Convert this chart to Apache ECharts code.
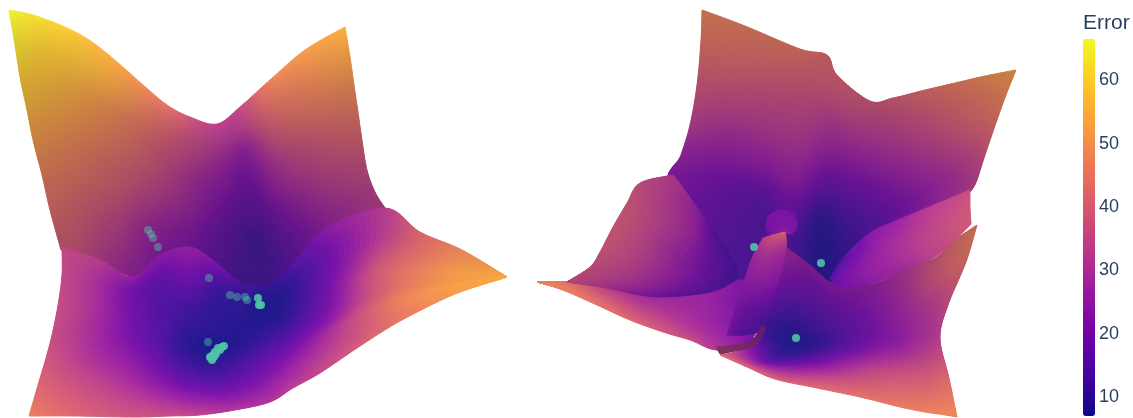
<!DOCTYPE html>
<html>
<head>
<meta charset="utf-8">
<style>html,body{margin:0;background:#fff}#chart{width:1133px;height:418px}</style>
<script src="https://cdn.jsdelivr.net/npm/echarts@6/dist/echarts.min.js"></script>
</head>
<body>
<div id="chart"></div>
<script>
// colour scale range and tick labels
const errMin = 7;
const errMax = 66.5;
const tickValues = [10, 20, 30, 40, 50, 60];
const plasma = ['#0d0887', '#46039f', '#7201a8', '#9c179e', '#bd3786', '#d8576b', '#ed7953', '#fb9f3a', '#fdca26', '#f0f921'];

// left landscape, back wall
const leftBackX = [
  [9, 33, 67, 92, 117, 143, 167, 190, 217, 240, 270, 305, 345],
  [15, 42, 72, 97, 122, 147, 171, 194, 219, 242, 272, 308, 350],
  [20, 47, 77, 102, 127, 151, 175, 198, 222, 245, 275, 312, 354],
  [27, 52, 82, 107, 132, 156, 179, 202, 225, 248, 278, 316, 358],
  [33, 57, 87, 112, 137, 161, 184, 207, 229, 251, 281, 320, 362],
  [42, 62, 92, 117, 142, 166, 189, 212, 232, 254, 284, 325, 367],
  [50, 70, 97, 122, 147, 172, 196, 218, 238, 258, 288, 333, 375],
  [61, 85, 110, 135, 160, 185, 210, 235, 260, 285, 315, 352, 385]
];
const leftBackY = [
  [10, 15, 28, 42, 62, 85, 105, 117, 124, 107, 80, 50, 27],
  [45, 50, 62, 75, 92, 110, 125, 135, 140, 128, 108, 85, 57],
  [77, 85, 95, 105, 118, 130, 142, 150, 156, 150, 135, 115, 85],
  [110, 118, 125, 133, 140, 150, 160, 167, 172, 170, 160, 140, 112],
  [140, 147, 152, 160, 165, 172, 178, 185, 190, 190, 182, 165, 140],
  [175, 180, 185, 190, 195, 200, 205, 210, 212, 212, 205, 190, 170],
  [210, 215, 220, 225, 232, 235, 238, 240, 240, 240, 235, 218, 192],
  [250, 258, 268, 278, 285, 292, 292, 292, 288, 272, 240, 220, 208]
];
const leftBackErr = [
  [66, 63, 60, 57, 54, 49, 44, 38, 33, 35, 47, 52, 55],
  [63, 60, 58, 56, 52, 46, 41, 36, 32, 33, 43, 48, 53],
  [60, 57, 54, 51, 47, 43, 38, 34, 29, 26, 38, 44, 49],
  [56, 53, 50, 47, 44, 39, 35, 30, 25, 22, 32, 39, 45],
  [52, 49, 46, 43, 40, 36, 31, 26, 22, 19, 28, 35, 40],
  [47, 45, 42, 39, 35, 31, 27, 22, 18, 16, 23, 31, 36],
  [43, 41, 37, 33, 27, 24, 21, 17, 14, 12, 18, 27, 33],
  [38, 36, 30, 25, 21, 18, 15, 12, 12, 14, 22, 30, 33]
];

// left landscape, front sheet
const leftFrontX = [
  [62, 100, 133, 160, 190, 215, 240, 265, 290, 327, 385, 420, 462, 507],
  [62, 98, 133, 162, 190, 215, 240, 265, 292, 330, 385, 422, 464, 507],
  [58, 94, 130, 160, 188, 213, 240, 265, 292, 330, 375, 416, 460, 507],
  [52, 90, 126, 156, 184, 210, 238, 263, 290, 328, 368, 408, 458, 507],
  [46, 85, 125, 153, 182, 210, 240, 267, 292, 328, 365, 402, 455, 507],
  [38, 80, 125, 155, 185, 217, 250, 275, 298, 335, 374, 410, 457, 507],
  [29, 75, 133, 170, 200, 235, 270, 293, 320, 357, 393, 427, 460, 507]
];
const leftFrontY = [
  [247, 260, 277, 255, 247, 262, 282, 285, 265, 228, 208, 232, 250, 277],
  [275, 282, 292, 280, 272, 283, 295, 298, 285, 255, 238, 250, 262, 277],
  [305, 310, 315, 305, 300, 305, 310, 312, 310, 290, 270, 270, 272, 277],
  [335, 335, 335, 330, 325, 330, 330, 330, 330, 318, 297, 288, 281, 277],
  [358, 358, 355, 350, 350, 350, 348, 347, 345, 332, 312, 298, 285, 277],
  [385, 385, 385, 383, 383, 382, 378, 372, 365, 348, 328, 308, 289, 277],
  [416, 416, 417, 416, 415, 410, 402, 388, 373, 348, 325, 307, 292, 277]
];
const leftFrontErr = [
  [35, 32, 25, 24, 25, 22, 14, 11, 14, 24, 32, 41, 48, 54],
  [35, 29, 19, 16, 20, 13, 10, 8, 10, 19, 33, 43, 50, 54],
  [36, 29, 20, 14, 13, 10, 9, 7, 10, 20, 37, 46, 52, 54],
  [36, 29, 21, 15, 11, 9, 8, 9, 13, 22, 36, 46, 52, 54],
  [38, 31, 24, 17, 10, 7, 9, 13, 18, 28, 38, 47, 53, 54],
  [41, 36, 30, 24, 18, 15, 18, 22, 27, 33, 40, 47, 52, 54],
  [46, 41, 37, 35, 33, 30, 30, 32, 34, 39, 44, 48, 52, 54]
];

// right landscape, back wall
const rightBackX = [
  [702, 745, 800, 827, 837, 870, 893, 925, 955, 985, 1016],
  [701, 738, 785, 815, 838, 868, 893, 925, 955, 985, 1006],
  [697, 728, 768, 803, 830, 858, 890, 922, 950, 978, 997],
  [690, 725, 765, 800, 828, 856, 888, 918, 945, 972, 985],
  [681, 720, 762, 795, 825, 853, 885, 915, 942, 965, 977],
  [668, 722, 760, 790, 820, 848, 880, 910, 937, 957, 973],
  [712, 750, 775, 795, 825, 843, 870, 893, 927, 950, 970]
];
const rightBackY = [
  [10, 26, 49, 55, 75, 101, 98, 90, 83, 76, 70],
  [40, 52, 68, 80, 95, 118, 115, 110, 105, 100, 95],
  [85, 90, 97, 107, 115, 135, 137, 132, 128, 125, 120],
  [125, 127, 135, 145, 150, 160, 163, 157, 152, 148, 155],
  [155, 162, 170, 180, 187, 190, 190, 183, 178, 175, 180],
  [192, 200, 205, 215, 225, 225, 215, 205, 198, 193, 188],
  [300, 305, 300, 280, 290, 258, 233, 222, 208, 198, 192]
];
const rightBackErr = [
  [48, 46, 44, 42, 41, 38, 40, 43, 46, 49, 52],
  [44, 43, 41, 39, 38, 35, 36, 39, 42, 45, 48],
  [38, 37, 36, 35, 33, 31, 32, 35, 38, 41, 44],
  [32, 30, 30, 30, 26, 25, 27, 30, 33, 36, 37],
  [26, 23, 23, 24, 17, 18, 21, 25, 28, 31, 33],
  [22, 17, 15, 17, 9, 12, 16, 21, 26, 30, 33],
  [14, 13, 13, 9, 8, 10, 15, 19, 26, 30, 34]
];

// right landscape, hill on the left
const rightHillX = [
  [567, 590, 600, 613, 627, 640, 673],
  [567, 594, 612, 630, 645, 660, 686],
  [567, 598, 625, 650, 670, 690, 700],
  [567, 603, 637, 668, 698, 712, 715],
  [567, 607, 647, 680, 717, 737, 730]
];
const rightHillY = [
  [282, 267, 252, 227, 203, 183, 175],
  [282, 272, 260, 240, 222, 205, 192],
  [282, 278, 272, 262, 248, 232, 212],
  [282, 283, 286, 285, 275, 255, 232],
  [282, 288, 296, 296, 290, 275, 255]
];
const rightHillErr = [
  [36, 36, 38, 39, 38, 36, 32],
  [36, 35, 36, 36, 35, 33, 29],
  [36, 34, 33, 31, 28, 27, 24],
  [36, 32, 28, 24, 20, 18, 15],
  [36, 30, 22, 17, 14, 12, 13]
];

// right landscape, sheet below the hill
const rightSheetX = [
  [537, 567, 607, 647, 680, 717, 745, 765],
  [537, 566, 604, 641, 674, 710, 738, 762],
  [537, 565, 600, 635, 668, 700, 728, 757],
  [537, 563, 597, 630, 663, 690, 717, 750]
];
const rightSheetY = [
  [282, 282, 288, 296, 296, 290, 280, 300],
  [282, 285, 294, 305, 309, 308, 304, 315],
  [282, 288, 300, 313, 321, 325, 328, 330],
  [282, 290, 305, 320, 332, 340, 350, 343]
];
const rightSheetErr = [
  [47, 44, 33, 28, 27, 25, 22, 22],
  [47, 45, 37, 32, 29, 26, 22, 20],
  [47, 46, 41, 37, 33, 28, 24, 20],
  [47, 46, 44, 41, 38, 35, 30, 20]
];

// right landscape, front sheet with the lower well
const rightFrontX = [
  [787, 810, 830, 855, 880, 910, 935, 955, 977],
  [778, 802, 825, 850, 878, 908, 932, 950, 966],
  [768, 790, 815, 845, 875, 905, 925, 940, 948],
  [758, 785, 812, 842, 872, 900, 920, 932, 940],
  [740, 770, 800, 835, 868, 900, 925, 940, 949],
  [720, 747, 775, 812, 860, 900, 925, 945, 957]
];
const rightFrontY = [
  [248, 265, 282, 285, 282, 267, 258, 240, 225],
  [278, 292, 305, 305, 300, 290, 280, 268, 262],
  [310, 318, 325, 325, 322, 315, 308, 302, 305],
  [335, 340, 345, 345, 345, 343, 340, 338, 338],
  [350, 360, 362, 368, 372, 375, 378, 378, 378],
  [355, 367, 379, 387, 397, 407, 412, 415, 417]
];
const rightFrontErr = [
  [28, 24, 24, 24, 26, 32, 38, 42, 47],
  [22, 17, 17, 20, 24, 30, 37, 41, 43],
  [14, 11, 12, 16, 21, 27, 31, 34, 36],
  [13, 8, 9, 15, 21, 25, 29, 31, 33],
  [30, 15, 17, 27, 34, 37, 39, 41, 42],
  [42, 40, 39, 41, 43, 45, 46, 47, 48]
];

// right landscape, wedge between the back wall and the front sheet
const rightWedgeX = [
  [830, 843, 870, 893, 927, 970],
  [833, 855, 885, 910, 940, 970],
  [837, 877, 910, 933, 955, 971]
];
const rightWedgeY = [
  [278, 258, 233, 222, 208, 190],
  [283, 272, 255, 243, 228, 208],
  [288, 282, 267, 258, 240, 224]
];
const rightWedgeErr = [
  [14, 14, 22, 25, 31, 36],
  [17, 22, 27, 31, 35, 38],
  [20, 24, 29, 33, 37, 39]
];

// right landscape, central ridge
const rightRidgeX = [
  [763, 773, 785],
  [752, 767, 786],
  [744, 758, 777],
  [735, 748, 768],
  [727, 743, 762]
];
const rightRidgeY = [
  [238, 235, 232],
  [258, 255, 248],
  [282, 285, 285],
  [310, 312, 315],
  [335, 335, 332]
];
const rightRidgeErr = [
  [32, 38, 42],
  [27, 30, 30],
  [24, 24, 22],
  [22, 18, 14],
  [22, 15, 13]
];

// right landscape, knob behind the ridge
const rightKnobX = [
  [768, 780, 795],
  [766, 780, 797],
  [770, 782, 792]
];
const rightKnobY = [
  [216, 210, 214],
  [228, 226, 226],
  [236, 234, 234]
];
const rightKnobErr = [
  [21, 21, 20],
  [20, 22, 21],
  [18, 24, 22]
];

// right landscape, dark crease at the foot of the ridge
const rightCreaseX = [
  [716, 735, 752, 762],
  [720, 739, 756, 766]
];
const rightCreaseY = [
  [347, 345, 340, 325],
  [354, 350, 345, 328]
];
const rightCreaseErr = [
  [34, 32, 28, 25],
  [34, 32, 28, 25]
];

// optimiser points, seen through the surface (faint) and in front of it
const faintPointsX = [148, 151, 153, 158, 209, 230, 237, 245, 247, 208];
const faintPointsY = [230, 234, 238, 247, 278, 295, 297, 297, 300, 342];
const brightPointsX = [258, 259, 261, 224, 222, 220, 218, 216, 215, 214, 213, 212, 211, 210, 754, 821, 796];
const brightPointsY = [298, 305, 305, 346, 347, 350, 348, 354, 352, 357, 355, 360, 358, 357, 247, 263, 338];

const stopsRgb = plasma.map(function (c) {
  return echarts.color.parse(c);
});

function errColor(err, shade) {
  const t = Math.min(Math.max((err - errMin) / (errMax - errMin), 0), 1) * (stopsRgb.length - 1);
  const i = Math.min(Math.floor(t), stopsRgb.length - 2);
  const f = t - i;
  const rgb = [0, 1, 2].map(function (k) {
    const v = (stopsRgb[i][k] + (stopsRgb[i + 1][k] - stopsRgb[i][k]) * f) * shade;
    return Math.round(v * 0.93 + 255 * 0.07); // surface is slightly see-through
  });
  return 'rgb(' + rgb.join(',') + ')';
}

function catmull(p0, p1, p2, p3, t) {
  return 0.5 * (2 * p1 + (p2 - p0) * t + (2 * p0 - 5 * p1 + 4 * p2 - p3) * t * t + (3 * p1 - p0 - 3 * p2 + p3) * t * t * t);
}

// smooth lookup inside mesh cell (r, c)
function meshAt(m, r, c, u, v) {
  const rows = m.length, cols = m[0].length;
  const vals = [];
  for (let k = -1; k <= 2; k++) {
    const row = m[Math.min(Math.max(r + k, 0), rows - 1)];
    vals.push(catmull(
      row[Math.max(c - 1, 0)], row[c], row[c + 1], row[Math.min(c + 2, cols - 1)], u
    ));
  }
  return catmull(vals[0], vals[1], vals[2], vals[3], v);
}

// lighting falls off down a patch, list runs from its first row to its last
function lightAt(light, frac) {
  const p = frac * (light.length - 1);
  const i = Math.min(Math.floor(p), light.length - 2);
  return light[i] + (light[i + 1] - light[i]) * (p - i);
}

// one custom series per patch: each datum is a mesh cell, shaded in small steps
function patchSeries(mx, my, me, light) {
  const cells = [];
  for (let r = 0; r < mx.length - 1; r++) {
    for (let c = 0; c < mx[0].length - 1; c++) {
      cells.push([r, c]);
    }
  }
  const steps = 11;
  return {
    type: 'custom',
    coordinateSystem: 'cartesian2d',
    xAxisIndex: 0,
    yAxisIndex: 0,
    silent: true,
    animation: false,
    clip: false,
    data: cells,
    encode: { x: 1, y: 0 },
    renderItem: function (params, api) {
      const r = api.value(0);
      const c = api.value(1);
      const children = [];
      for (let a = 0; a < steps; a++) {
        for (let b = 0; b < steps; b++) {
          const u0 = b / steps, u1 = (b + 1) / steps;
          const v0 = a / steps, v1 = (a + 1) / steps;
          const pts = [[u0, v0], [u1, v0], [u1, v1], [u0, v1]].map(function (p) {
            return api.coord([meshAt(mx, r, c, p[0], p[1]), meshAt(my, r, c, p[0], p[1])]);
          });
          const um = (u0 + u1) / 2, vm = (v0 + v1) / 2;
          const rowFrac = (r + vm) / (mx.length - 1);
          const fill = errColor(meshAt(me, r, c, um, vm), lightAt(light, rowFrac));
          children.push({
            type: 'polygon',
            shape: { points: pts },
            style: { fill: fill, stroke: fill, lineWidth: 1 }
          });
        }
      }
      return { type: 'group', children: children };
    }
  };
}

function pointPairs(xs, ys) {
  return xs.map(function (x, i) {
    return [x, ys[i]];
  });
}

const chart = echarts.init(document.getElementById('chart'), null, { renderer: 'canvas' });

chart.setOption({
  animation: false,
  backgroundColor: '#fff',
  textStyle: { fontFamily: '"Liberation Sans", Arial, sans-serif' },
  title: {
    text: 'Error',
    left: 1083,
    top: 13,
    padding: 0,
    textStyle: { fontSize: 21, fontWeight: 'normal', color: '#2a3f5f' }
  },
  grid: [
    { left: 0, top: 0, width: 1133, height: 418 },
    { left: 1083, top: 39, width: 12, height: 377 }
  ],
  xAxis: [
    { gridIndex: 0, type: 'value', min: 0, max: 1133, show: false },
    { gridIndex: 1, type: 'value', min: 0, max: 1, show: false }
  ],
  yAxis: [
    { gridIndex: 0, type: 'value', min: 0, max: 418, inverse: true, show: false },
    {
      gridIndex: 1,
      type: 'value',
      min: errMin,
      max: errMax,
      position: 'right',
      axisLine: { show: false },
      axisTick: { show: false },
      splitLine: { show: false },
      axisLabel: {
        customValues: tickValues,
        margin: 4,
        fontSize: 18,
        color: '#2a3f5f'
      }
    }
  ],
  visualMap: {
    type: 'continuous',
    seriesIndex: [],
    min: errMin,
    max: errMax,
    left: 1083,
    top: 39,
    itemWidth: 12,
    itemHeight: 377,
    padding: 0,
    calculable: false,
    hoverLink: false,
    text: null,
    showLabel: false,
    inRange: { color: plasma }
  },
  series: [
    patchSeries(leftBackX, leftBackY, leftBackErr, [1, 0.88, 0.82, 0.8, 0.79, 0.78, 0.78, 0.78]),
    patchSeries(leftFrontX, leftFrontY, leftFrontErr, [0.95, 1]),
    patchSeries(rightBackX, rightBackY, rightBackErr, [0.8, 0.85]),
    patchSeries(rightSheetX, rightSheetY, rightSheetErr, [0.95, 1]),
    patchSeries(rightHillX, rightHillY, rightHillErr, [0.88, 0.85]),
    patchSeries(rightFrontX, rightFrontY, rightFrontErr, [0.8, 1]),
    patchSeries(rightWedgeX, rightWedgeY, rightWedgeErr, [1, 0.95]),
    patchSeries(rightKnobX, rightKnobY, rightKnobErr, [0.95, 0.95]),
    patchSeries(rightRidgeX, rightRidgeY, rightRidgeErr, [0.95, 0.85]),
    patchSeries(rightCreaseX, rightCreaseY, rightCreaseErr, [0.62, 0.62]),
    {
      type: 'scatter',
      xAxisIndex: 0,
      yAxisIndex: 0,
      silent: true,
      symbolSize: 8,
      itemStyle: { color: '#4fc3a9', opacity: 0.45 },
      data: pointPairs(faintPointsX, faintPointsY)
    },
    {
      type: 'scatter',
      xAxisIndex: 0,
      yAxisIndex: 0,
      silent: true,
      symbolSize: 8,
      itemStyle: { color: '#4fc3a9', opacity: 0.9 },
      data: pointPairs(brightPointsX, brightPointsY)
    }
  ]
});
</script>
</body>
</html>
